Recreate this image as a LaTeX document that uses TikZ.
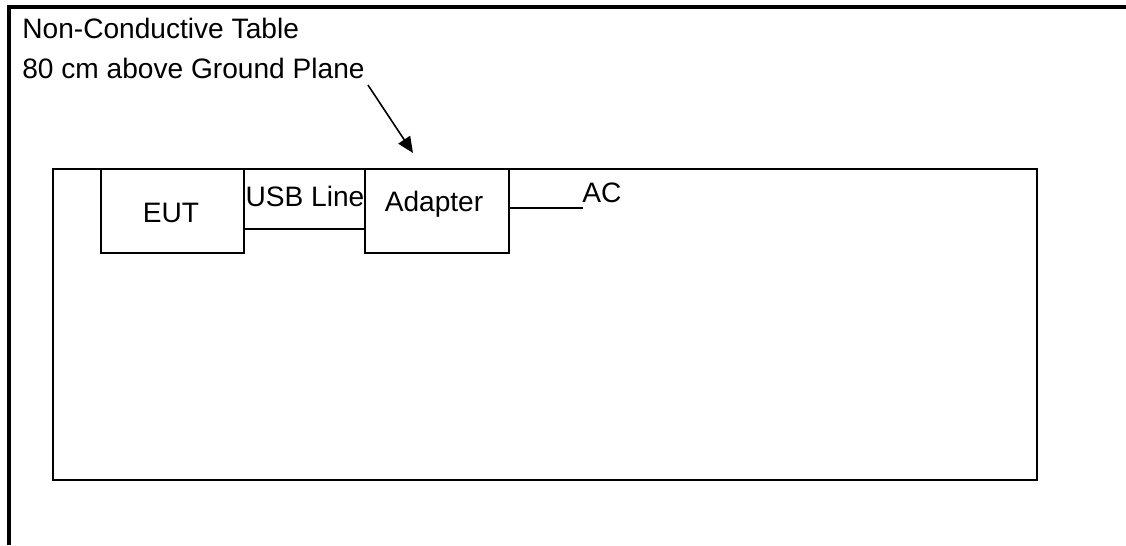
\documentclass[tikz,border=0pt]{standalone}
\usepackage{fontspec}
\setmainfont{Liberation Sans}
\usetikzlibrary{arrows.meta}

\begin{document}
\begin{tikzpicture}[
    x=0.02cm, y=-0.02cm,
    every node/.style={font=\fontsize{16}{19}\selectfont, inner sep=0pt},
    frame/.style={
        line width=1.8pt
    },
    tablebox/.style={
        draw,
        line width=1.2pt
    },
    unit/.style={
        draw,
        line width=0.9pt,
        minimum width=2.87cm,
        minimum height=1.68cm
    },
    wire/.style={line width=0.9pt},
    arr/.style={-{Triangle[length=0.32cm, width=0.28cm]}, line width=0.9pt}
]

    \useasboundingbox (0,0) rectangle (1126,545);

    % open outer frame
    \draw[frame] (9,545) -- (9,7) -- (1126,7);

    % title texts
    \node[anchor=base west] (title) at (22,38) {Non-Conductive Table};
    \node[anchor=base west] (plane) at (22,78) {80 cm above Ground Plane};

    % table top
    \node[
        tablebox,
        minimum width=19.68cm,
        minimum height=6.22cm
    ] (table) at (545,324.5) {};

    % EUT and adapter
    \node[unit] (eut) at (172.5,211) {};
    \node[anchor=base] at (171,222) {EUT};

    \node[unit] (adapter) at (437,211) {};
    \node[anchor=base] at (434,211) {Adapter};

    % USB line
    \draw[wire] (eut.east) ++(0,18) coordinate (usb) -- (usb -| adapter.west);
    \node[anchor=base] (usblabel) at (305,206) {USB Line};

    % AC line
    \draw[wire] (adapter.east) ++(0,-3) -- ++(73,0) coordinate (acend);
    \node[anchor=base west] (ac) at (582,202) {AC};

    % arrow to table
    \coordinate (tip) at (413,153);
    \draw[arr] ([shift={(3,7)}]plane.base east) -- (tip);

\end{tikzpicture}
\end{document}
